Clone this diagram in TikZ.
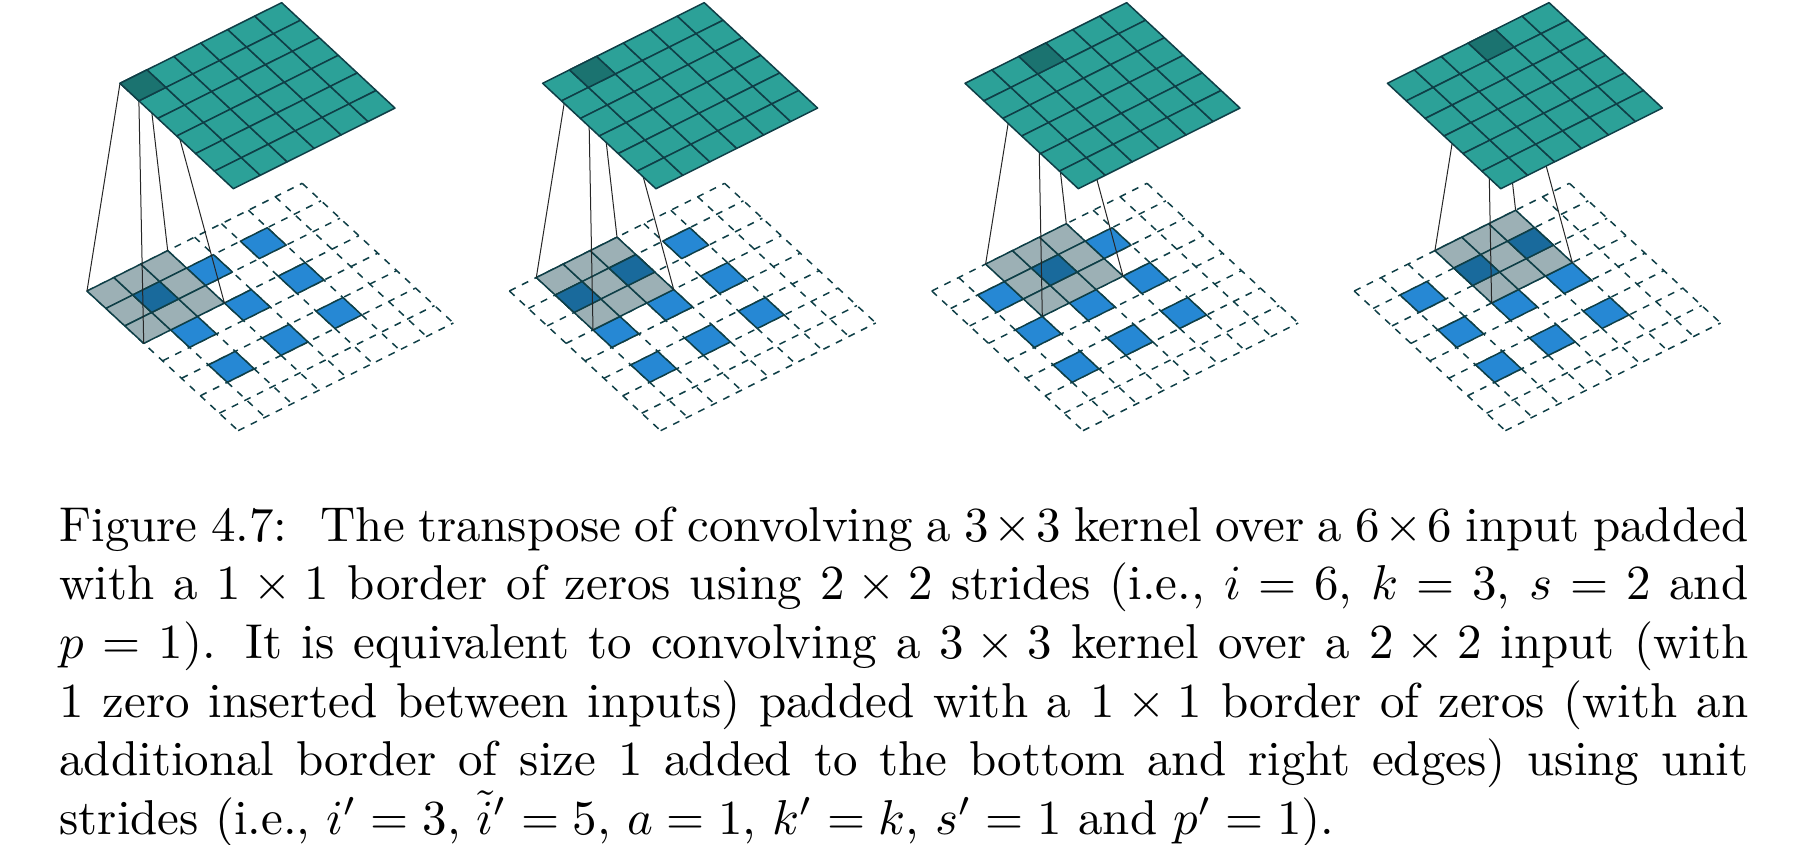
\documentclass[tikz,border=0pt]{standalone}
\definecolor{tealfill}{HTML}{2CA198}
\definecolor{tealdark}{HTML}{1B7370}
\definecolor{bluefill}{HTML}{2688D4}
\definecolor{bluedark}{HTML}{196A9C}
\definecolor{grayfill}{HTML}{9CB0B5}
\definecolor{gridline}{HTML}{0F3F47}
\tikzset{
  cellline/.style={draw=gridline,line width=1.5pt,line join=round},
  dashline/.style={draw=gridline,line width=1.5pt,dash pattern=on 7pt off 7pt},
  linkline/.style={draw=black!85,line width=1pt},
  topgrid/.style={x={(26.94pt,13.44pt)},y={(18.89pt,-17.57pt)}},
  lowgrid/.style={x={(26.9pt,13.46pt)},y={(18.9pt,-17.46pt)}},
}
\newcommand{\cellat}[2]{({#1},{#2}) -- ++(1,0) -- ++(0,1) -- ++(-1,0) -- cycle}
% #1 panel id, #2 top grid x, #3 lower grid x, #4 first gray column, #5 dark top column
\newcommand{\drawpanel}[5]{%
  \begin{scope}[shift={(#3,291)},lowgrid]
    \foreach \k in {0,...,8}{
      \draw[dashline] (\k,0) -- (\k,8);
      \draw[dashline] (0,\k) -- (8,\k);
    }
    \foreach \a in {1,3,5}\foreach \b in {1,3,5}{
      \filldraw[cellline,fill=bluefill] \cellat{\a}{\b};
    }
    \foreach \i in {0,1,2}\foreach \j in {0,1,2}{
      \filldraw[cellline,fill=grayfill] \cellat{#4+\i}{\j};
    }
    \foreach \a in {1,3,5}{
      \pgfmathparse{int((\a>=#4)&&(\a<#4+3))}
      \ifnum\pgfmathresult=1
        \filldraw[cellline,fill=bluedark] \cellat{\a}{1};
      \fi
    }
    \coordinate (g#1a) at ({#4},0);
    \coordinate (g#1b) at ({#4+3},0);
    \coordinate (g#1c) at ({#4+3},3);
    \coordinate (g#1d) at ({#4},3);
  \end{scope}
  \begin{scope}[shift={(#2,83.3)},topgrid]
    \coordinate (t#1a) at ({#5},0);
    \coordinate (t#1b) at ({#5+1},0);
    \coordinate (t#1c) at ({#5+1},1);
    \coordinate (t#1d) at ({#5},1);
  \end{scope}
  \draw[linkline] (g#1a) -- (t#1a);
  \draw[linkline] (g#1b) -- (t#1b);
  \draw[linkline] (g#1c) -- (t#1c);
  \draw[linkline] (g#1d) -- (t#1d);
  \begin{scope}[shift={(#2,83.3)},topgrid]
    \foreach \i in {0,...,5}\foreach \j in {0,...,5}{
      \filldraw[cellline,fill=tealfill] \cellat{\i}{\j};
    }
    \filldraw[cellline,fill=tealdark] (t#1a) -- (t#1b) -- (t#1c) -- (t#1d) -- cycle;
  \end{scope}
}
\begin{document}
\begin{tikzpicture}[x=1pt,y=-1pt]
  \useasboundingbox (0,0) rectangle (1798,845);
  \drawpanel{1}{120}{87}{0}{0}
  \drawpanel{2}{542.6}{509.4}{1}{1}
  \drawpanel{3}{965}{931.8}{2}{2}
  \drawpanel{4}{1387.4}{1354.2}{3}{3}
  \node[inner sep=0pt,outer sep=0pt,anchor=base west] (caption) at (59.5,541) {%
    \scalebox{4.895}{\parbox[t]{345pt}{\fontsize{10}{12}\selectfont\noindent
    Figure 4.7:\hspace{0.68em}The transpose of convolving a $3\times3$ kernel over a $6\times6$ input padded\linebreak
    with a $1\times1$ border of zeros using $2\times2$ strides (i.e., $i=6$, $k=3$, $s=2$ and\linebreak
    $p=1$). It is equivalent to convolving a $3\times3$ kernel over a $2\times2$ input (with\linebreak
    $1$ zero inserted between inputs) padded with a $1\times1$ border of zeros (with an\linebreak
    additional border of size $1$ added to the bottom and right edges) using unit\linebreak
    strides (i.e., $i'=3$, $\tilde{i}'=5$, $a=1$, $k'=k$, $s'=1$ and $p'=1$).}}};
\end{tikzpicture}
\end{document}
